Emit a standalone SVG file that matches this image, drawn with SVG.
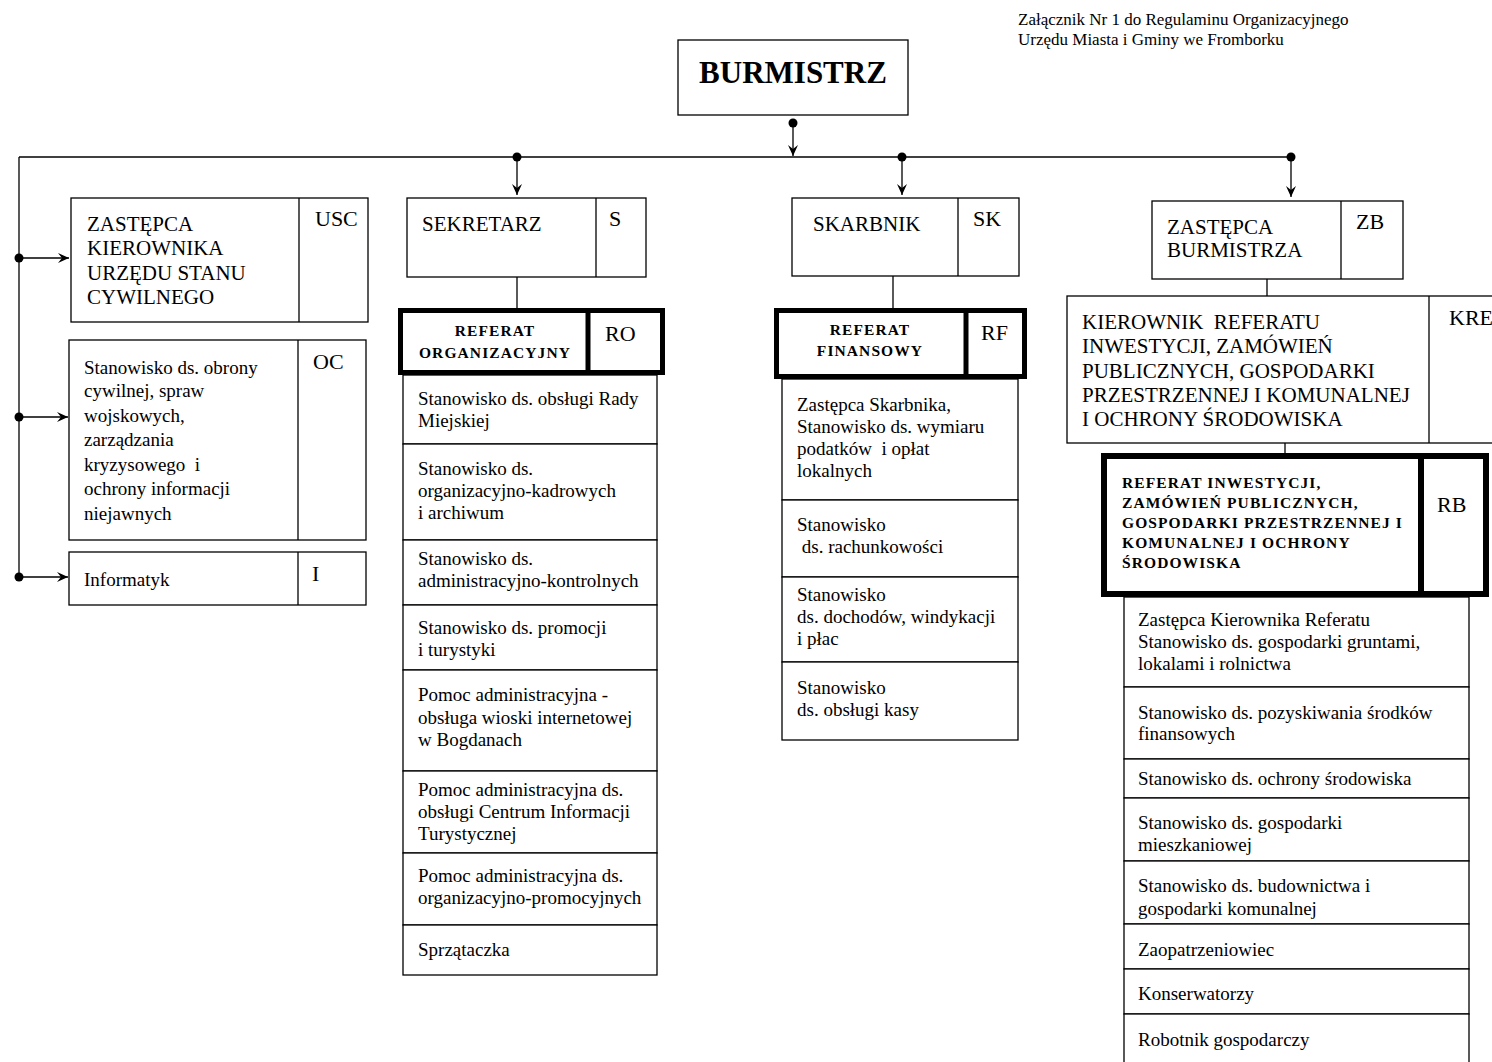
<svg xmlns="http://www.w3.org/2000/svg" width="1492" height="1062" viewBox="0 0 1492 1062">
<style>
.bx{fill:#fff;stroke:#000;stroke-width:1.3}
.th{fill:none;stroke:#000;stroke-width:5}
.ln{stroke:#000;stroke-width:1.3;fill:none}
.t{font-family:"Liberation Serif",serif;font-size:19px;fill:#000}
.u{font-family:"Liberation Serif",serif;font-size:21px;fill:#000}
.c{font-family:"Liberation Serif",serif;font-size:22px;fill:#000}
.b{font-family:"Liberation Serif",serif;font-size:15.5px;font-weight:bold;letter-spacing:1.1px;fill:#000}
.h{font-family:"Liberation Serif",serif;font-size:17px;fill:#000}
.p{white-space:pre}
</style>
<defs>
<marker id="ar" markerWidth="12" markerHeight="10" refX="11" refY="5" orient="auto" markerUnits="userSpaceOnUse">
<path d="M0,0 L11,5 L0,10 L4,5 z" fill="#000"/>
</marker>
</defs>
<rect width="1492" height="1062" fill="#fff"/>
<g id="header">
<text class="h" x="1018" y="25">Załącznik Nr 1 do Regulaminu Organizacyjnego</text>
<text class="h" x="1018" y="45">Urzędu Miasta i Gminy we Fromborku</text>
</g>
<g id="connectors">
<line class="ln" x1="793" y1="123" x2="793" y2="156" marker-end="url(#ar)"/>
<circle cx="793" cy="123" r="4.5"/>
<line class="ln" x1="19" y1="157" x2="1291" y2="157"/>
<line class="ln" x1="19" y1="157" x2="19" y2="577"/>
<circle cx="517" cy="157" r="4.5"/>
<line class="ln" x1="517" y1="157" x2="517" y2="195" marker-end="url(#ar)"/>
<circle cx="902" cy="157" r="4.5"/>
<line class="ln" x1="902" y1="157" x2="902" y2="195" marker-end="url(#ar)"/>
<circle cx="1291" cy="157" r="4.5"/>
<line class="ln" x1="1291" y1="157" x2="1291" y2="197" marker-end="url(#ar)"/>
<circle cx="19" cy="258" r="4.5"/>
<line class="ln" x1="19" y1="258" x2="69" y2="258" marker-end="url(#ar)"/>
<circle cx="19" cy="417" r="4.5"/>
<line class="ln" x1="19" y1="417" x2="68" y2="417" marker-end="url(#ar)"/>
<circle cx="19" cy="577" r="4.5"/>
<line class="ln" x1="19" y1="577" x2="68" y2="577" marker-end="url(#ar)"/>
<line class="ln" x1="517" y1="277" x2="517" y2="309"/>
<line class="ln" x1="893" y1="276" x2="893" y2="309"/>
<line class="ln" x1="1267" y1="279" x2="1267" y2="296"/>
<line class="ln" x1="1285" y1="443" x2="1285" y2="455"/>
</g>
<g id="burmistrz">
<rect class="bx" x="678" y="40" width="230" height="75"/>
<text x="793" y="83" text-anchor="middle" font-family="Liberation Serif, serif" font-size="31" font-weight="bold">BURMISTRZ</text>
</g>
<g id="usc">
<rect class="bx" x="71" y="198" width="297" height="124"/>
<line class="ln" x1="299" y1="198" x2="299" y2="322"/>
<text class="u" x="87" y="231">ZASTĘPCA</text>
<text class="u" x="87" y="255">KIEROWNIKA</text>
<text class="u" x="87" y="280">URZĘDU STANU</text>
<text class="u" x="87" y="304">CYWILNEGO</text>
<text class="c" x="315" y="226">USC</text>
</g>
<g id="oc">
<rect class="bx" x="69" y="340" width="297" height="200"/>
<line class="ln" x1="298" y1="340" x2="298" y2="540"/>
<text class="t" x="84" y="374">Stanowisko ds. obrony</text>
<text class="t" x="84" y="397">cywilnej, spraw</text>
<text class="t" x="84" y="422">wojskowych,</text>
<text class="t" x="84" y="446">zarządzania</text>
<text class="t p" x="84" y="471">kryzysowego  i</text>
<text class="t" x="84" y="495">ochrony informacji</text>
<text class="t" x="84" y="520">niejawnych</text>
<text class="c" x="313" y="369">OC</text>
</g>
<g id="informatyk">
<rect class="bx" x="69" y="552" width="297" height="53"/>
<line class="ln" x1="298" y1="552" x2="298" y2="605"/>
<text class="t" x="84" y="586">Informatyk</text>
<text class="c" x="312" y="581">I</text>
</g>
<g id="sekretarz">
<rect class="bx" x="407" y="198" width="239" height="79"/>
<line class="ln" x1="596" y1="198" x2="596" y2="277"/>
<text class="u" x="422" y="231">SEKRETARZ</text>
<text class="c" x="609" y="226">S</text>
</g>
<g id="ro">
<rect class="th" x="400.5" y="310.5" width="262" height="62"/>
<line class="th" x1="588" y1="310" x2="588" y2="373"/>
<text class="b" x="495" y="336" text-anchor="middle">REFERAT</text>
<text class="b" x="495" y="358" text-anchor="middle">ORGANIZACYJNY</text>
<text class="c" x="605" y="341">RO</text>
</g>
<g id="ro-list">
<rect class="bx" x="403" y="375" width="254" height="69"/>
<text class="t" x="418" y="405">Stanowisko ds. obsługi Rady</text>
<text class="t" x="418" y="427">Miejskiej</text>
<rect class="bx" x="403" y="444" width="254" height="96"/>
<text class="t" x="418" y="475">Stanowisko ds.</text>
<text class="t" x="418" y="497">organizacyjno-kadrowych</text>
<text class="t" x="418" y="519">i archiwum</text>
<rect class="bx" x="403" y="540" width="254" height="65"/>
<text class="t" x="418" y="565">Stanowisko ds.</text>
<text class="t" x="418" y="587">administracyjno-kontrolnych</text>
<rect class="bx" x="403" y="605" width="254" height="65"/>
<text class="t" x="418" y="634">Stanowisko ds. promocji</text>
<text class="t" x="418" y="656">i turystyki</text>
<rect class="bx" x="403" y="670" width="254" height="101"/>
<text class="t" x="418" y="701">Pomoc administracyjna -</text>
<text class="t" x="418" y="724">obsługa wioski internetowej</text>
<text class="t" x="418" y="746">w Bogdanach</text>
<rect class="bx" x="403" y="771" width="254" height="82"/>
<text class="t" x="418" y="796">Pomoc administracyjna ds.</text>
<text class="t" x="418" y="818">obsługi Centrum Informacji</text>
<text class="t" x="418" y="840">Turystycznej</text>
<rect class="bx" x="403" y="853" width="254" height="72"/>
<text class="t" x="418" y="882">Pomoc administracyjna ds.</text>
<text class="t" x="418" y="904">organizacyjno-promocyjnych</text>
<rect class="bx" x="403" y="925" width="254" height="50"/>
<text class="t" x="418" y="956">Sprzątaczka</text>
</g>
<g id="skarbnik">
<rect class="bx" x="792" y="198" width="227" height="78"/>
<line class="ln" x1="958" y1="198" x2="958" y2="276"/>
<text class="u" x="813" y="231">SKARBNIK</text>
<text class="c" x="973" y="226">SK</text>
</g>
<g id="rf">
<rect class="th" x="776.5" y="310.5" width="248" height="66"/>
<line class="th" x1="966" y1="310" x2="966" y2="377"/>
<text class="b" x="870" y="335" text-anchor="middle">REFERAT</text>
<text class="b" x="870" y="356" text-anchor="middle">FINANSOWY</text>
<text class="c" x="981" y="340">RF</text>
</g>
<g id="rf-list">
<rect class="bx" x="782" y="379" width="236" height="121"/>
<text class="t" x="797" y="411">Zastępca Skarbnika,</text>
<text class="t" x="797" y="433">Stanowisko ds. wymiaru</text>
<text class="t p" x="797" y="455">podatków  i opłat</text>
<text class="t" x="797" y="477">lokalnych</text>
<rect class="bx" x="782" y="500" width="236" height="77"/>
<text class="t" x="797" y="531">Stanowisko</text>
<text class="t p" x="797" y="553"> ds. rachunkowości</text>
<rect class="bx" x="782" y="577" width="236" height="85"/>
<text class="t" x="797" y="601">Stanowisko</text>
<text class="t" x="797" y="623">ds. dochodów, windykacji</text>
<text class="t" x="797" y="645">i płac</text>
<rect class="bx" x="782" y="662" width="236" height="78"/>
<text class="t" x="797" y="694">Stanowisko</text>
<text class="t" x="797" y="716">ds. obsługi kasy</text>
</g>
<g id="zb">
<rect class="bx" x="1152" y="201" width="251" height="78"/>
<line class="ln" x1="1341" y1="201" x2="1341" y2="279"/>
<text class="u" x="1167" y="234">ZASTĘPCA</text>
<text class="u" x="1167" y="257">BURMISTRZA</text>
<text class="c" x="1356" y="229">ZB</text>
</g>
<g id="kre">
<rect class="bx" x="1067" y="296" width="440" height="147"/>
<line class="ln" x1="1429" y1="296" x2="1429" y2="443"/>
<text class="u p" x="1082" y="329">KIEROWNIK  REFERATU</text>
<text class="u" x="1082" y="353">INWESTYCJI, ZAMÓWIEŃ</text>
<text class="u" x="1082" y="378">PUBLICZNYCH, GOSPODARKI</text>
<text class="u" x="1082" y="402">PRZESTRZENNEJ I KOMUNALNEJ</text>
<text class="u" x="1082" y="426">I OCHRONY ŚRODOWISKA</text>
<text class="c" x="1449" y="325">KRE</text>
</g>
<g id="rb">
<rect x="1104" y="456" width="382" height="138" fill="none" stroke="#000" stroke-width="6"/>
<line x1="1421" y1="456" x2="1421" y2="594" stroke="#000" stroke-width="6"/>
<text class="b" x="1122" y="488">REFERAT INWESTYCJI,</text>
<text class="b" x="1122" y="508">ZAMÓWIEŃ PUBLICZNYCH,</text>
<text class="b" x="1122" y="528">GOSPODARKI PRZESTRZENNEJ I</text>
<text class="b" x="1122" y="548">KOMUNALNEJ I OCHRONY</text>
<text class="b" x="1122" y="568">ŚRODOWISKA</text>
<text class="c" x="1437" y="512">RB</text>
</g>
<g id="rb-list">
<rect class="bx" x="1124" y="597" width="345" height="90"/>
<text class="t" x="1138" y="626">Zastępca Kierownika Referatu</text>
<text class="t" x="1138" y="648">Stanowisko ds. gospodarki gruntami,</text>
<text class="t" x="1138" y="670">lokalami i rolnictwa</text>
<rect class="bx" x="1124" y="687" width="345" height="72"/>
<text class="t" x="1138" y="719">Stanowisko ds. pozyskiwania środków</text>
<text class="t" x="1138" y="740">finansowych</text>
<rect class="bx" x="1124" y="759" width="345" height="39"/>
<text class="t" x="1138" y="785">Stanowisko ds. ochrony środowiska</text>
<rect class="bx" x="1124" y="798" width="345" height="63"/>
<text class="t" x="1138" y="829">Stanowisko ds. gospodarki</text>
<text class="t" x="1138" y="851">mieszkaniowej</text>
<rect class="bx" x="1124" y="861" width="345" height="63"/>
<text class="t" x="1138" y="892">Stanowisko ds. budownictwa i</text>
<text class="t" x="1138" y="915">gospodarki komunalnej</text>
<rect class="bx" x="1124" y="924" width="345" height="45"/>
<text class="t" x="1138" y="956">Zaopatrzeniowiec</text>
<rect class="bx" x="1124" y="969" width="345" height="45"/>
<text class="t" x="1138" y="1000">Konserwatorzy</text>
<rect class="bx" x="1124" y="1014" width="345" height="60"/>
<text class="t" x="1138" y="1046">Robotnik gospodarczy</text>
</g>
</svg>
